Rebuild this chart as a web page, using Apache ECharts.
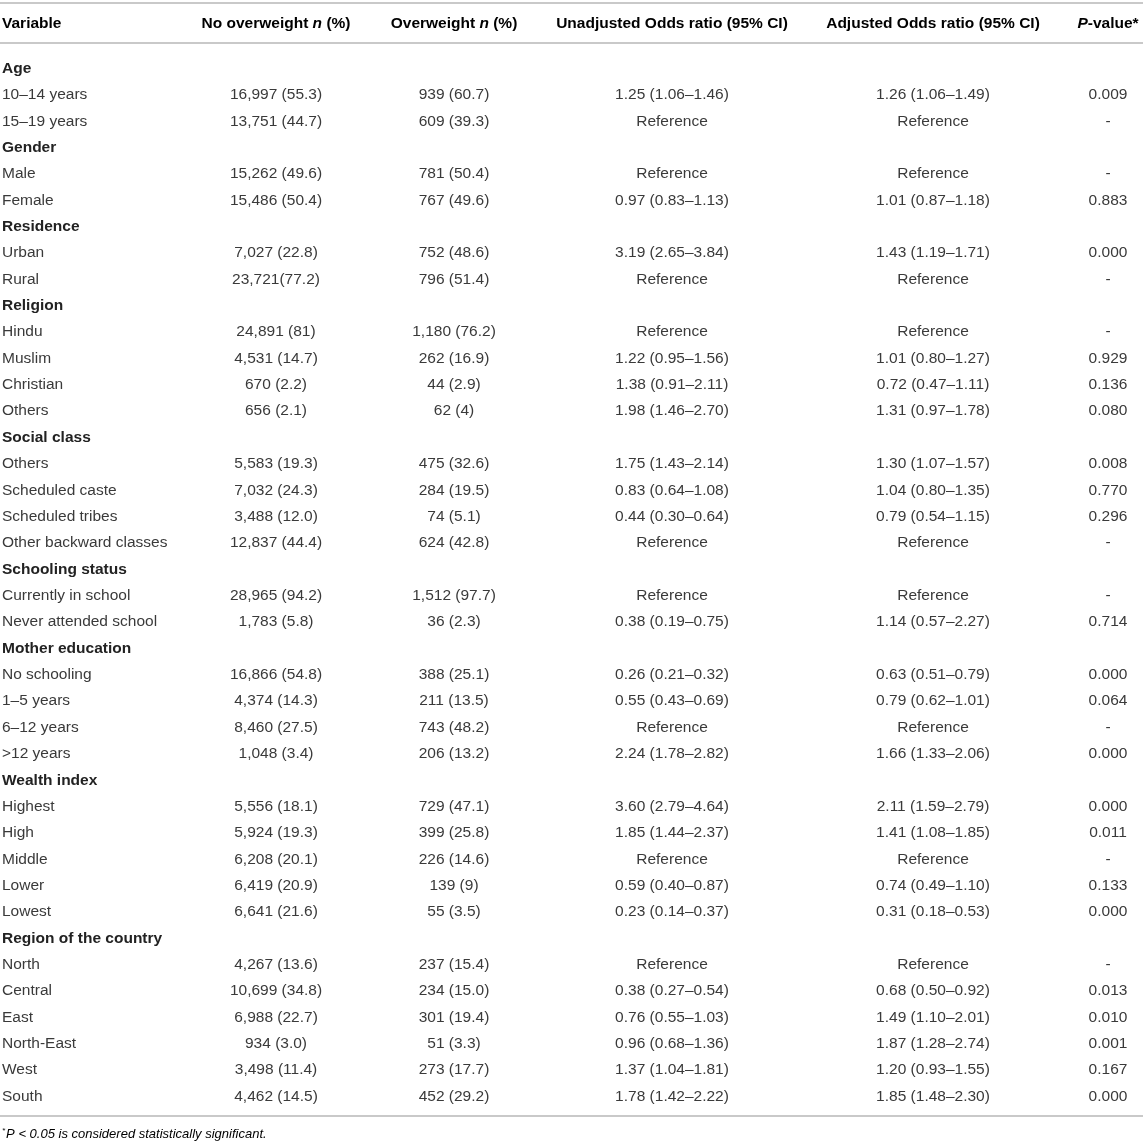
<!DOCTYPE html>
<html>
<head>
<meta charset="utf-8">
<script src="https://cdn.jsdelivr.net/npm/echarts@6/dist/echarts.min.js"></script>
<style>
html,body{margin:0;padding:0;background:#fff;}
#chart{width:1143px;height:1147px;}
</style>
</head>
<body>
<div id="chart"></div>
<script>
// ---- data ----
const headers = ['Variable', 'No overweight n (%)', 'Overweight n (%)', 'Unadjusted Odds ratio (95% CI)', 'Adjusted Odds ratio (95% CI)', 'P-value*'];
const variables = [
  'Age', '10–14 years', '15–19 years',
  'Gender', 'Male', 'Female',
  'Residence', 'Urban', 'Rural',
  'Religion', 'Hindu', 'Muslim', 'Christian', 'Others',
  'Social class', 'Others', 'Scheduled caste', 'Scheduled tribes', 'Other backward classes',
  'Schooling status', 'Currently in school', 'Never attended school',
  'Mother education', 'No schooling', '1–5 years', '6–12 years', '>12 years',
  'Wealth index', 'Highest', 'High', 'Middle', 'Lower', 'Lowest',
  'Region of the country', 'North', 'Central', 'East', 'North-East', 'West', 'South'
];
const isGroupHeading = [
  1,0,0, 1,0,0, 1,0,0, 1,0,0,0,0, 1,0,0,0,0, 1,0,0, 1,0,0,0,0, 1,0,0,0,0,0, 1,0,0,0,0,0,0
];
const noOverweight = [
  '', '16,997 (55.3)', '13,751 (44.7)',
  '', '15,262 (49.6)', '15,486 (50.4)',
  '', '7,027 (22.8)', '23,721(77.2)',
  '', '24,891 (81)', '4,531 (14.7)', '670 (2.2)', '656 (2.1)',
  '', '5,583 (19.3)', '7,032 (24.3)', '3,488 (12.0)', '12,837 (44.4)',
  '', '28,965 (94.2)', '1,783 (5.8)',
  '', '16,866 (54.8)', '4,374 (14.3)', '8,460 (27.5)', '1,048 (3.4)',
  '', '5,556 (18.1)', '5,924 (19.3)', '6,208 (20.1)', '6,419 (20.9)', '6,641 (21.6)',
  '', '4,267 (13.6)', '10,699 (34.8)', '6,988 (22.7)', '934 (3.0)', '3,498 (11.4)', '4,462 (14.5)'
];
const overweight = [
  '', '939 (60.7)', '609 (39.3)',
  '', '781 (50.4)', '767 (49.6)',
  '', '752 (48.6)', '796 (51.4)',
  '', '1,180 (76.2)', '262 (16.9)', '44 (2.9)', '62 (4)',
  '', '475 (32.6)', '284 (19.5)', '74 (5.1)', '624 (42.8)',
  '', '1,512 (97.7)', '36 (2.3)',
  '', '388 (25.1)', '211 (13.5)', '743 (48.2)', '206 (13.2)',
  '', '729 (47.1)', '399 (25.8)', '226 (14.6)', '139 (9)', '55 (3.5)',
  '', '237 (15.4)', '234 (15.0)', '301 (19.4)', '51 (3.3)', '273 (17.7)', '452 (29.2)'
];
const unadjustedOR = [
  '', '1.25 (1.06–1.46)', 'Reference',
  '', 'Reference', '0.97 (0.83–1.13)',
  '', '3.19 (2.65–3.84)', 'Reference',
  '', 'Reference', '1.22 (0.95–1.56)', '1.38 (0.91–2.11)', '1.98 (1.46–2.70)',
  '', '1.75 (1.43–2.14)', '0.83 (0.64–1.08)', '0.44 (0.30–0.64)', 'Reference',
  '', 'Reference', '0.38 (0.19–0.75)',
  '', '0.26 (0.21–0.32)', '0.55 (0.43–0.69)', 'Reference', '2.24 (1.78–2.82)',
  '', '3.60 (2.79–4.64)', '1.85 (1.44–2.37)', 'Reference', '0.59 (0.40–0.87)', '0.23 (0.14–0.37)',
  '', 'Reference', '0.38 (0.27–0.54)', '0.76 (0.55–1.03)', '0.96 (0.68–1.36)', '1.37 (1.04–1.81)', '1.78 (1.42–2.22)'
];
const adjustedOR = [
  '', '1.26 (1.06–1.49)', 'Reference',
  '', 'Reference', '1.01 (0.87–1.18)',
  '', '1.43 (1.19–1.71)', 'Reference',
  '', 'Reference', '1.01 (0.80–1.27)', '0.72 (0.47–1.11)', '1.31 (0.97–1.78)',
  '', '1.30 (1.07–1.57)', '1.04 (0.80–1.35)', '0.79 (0.54–1.15)', 'Reference',
  '', 'Reference', '1.14 (0.57–2.27)',
  '', '0.63 (0.51–0.79)', '0.79 (0.62–1.01)', 'Reference', '1.66 (1.33–2.06)',
  '', '2.11 (1.59–2.79)', '1.41 (1.08–1.85)', 'Reference', '0.74 (0.49–1.10)', '0.31 (0.18–0.53)',
  '', 'Reference', '0.68 (0.50–0.92)', '1.49 (1.10–2.01)', '1.87 (1.28–2.74)', '1.20 (0.93–1.55)', '1.85 (1.48–2.30)'
];
const pValues = [
  '', '0.009', '-',
  '', '-', '0.883',
  '', '0.000', '-',
  '', '-', '0.929', '0.136', '0.080',
  '', '0.008', '0.770', '0.296', '-',
  '', '-', '0.714',
  '', '0.000', '0.064', '-', '0.000',
  '', '0.000', '0.011', '-', '0.133', '0.000',
  '', '-', '0.013', '0.010', '0.001', '0.167', '0.000'
];
const footnote = 'P < 0.05 is considered statistically significant.';

// ---- layout (not data) ----
const W = 1143;
const colX = [2, 276, 454, 672, 933, 1108];
const colAlign = ['left', 'center', 'center', 'center', 'center', 'center'];
const rowH = 26.36;
const firstRowY = 68.5;
const FONT = '"Liberation Sans", Arial, Helvetica, sans-serif';
const TXT = '#3a3a3a';
const FS = 15.5;
const LINE = '#c9c9c9';

const columns = [variables, noOverweight, overweight, unadjustedOR, adjustedOR, pValues];

const chart = echarts.init(document.getElementById('chart'), null, {renderer: 'canvas'});

function renderRow(params, api) {
  const i = api.value(1);
  const children = [];
  for (let j = 0; j < columns.length; j++) {
    const t = columns[j][i];
    if (!t) continue;
    const pt = api.coord([colX[j], i]);
    const bold = j === 0 && isGroupHeading[i];
    children.push({
      type: 'text',
      x: pt[0], y: pt[1],
      style: {
        text: t,
        fill: bold ? '#222' : TXT,
        font: (bold ? 'bold ' : '') + FS + 'px ' + FONT,
        align: colAlign[j],
        verticalAlign: 'middle'
      }
    });
  }
  return {type: 'group', children};
}

const headerRich = {
  b: {fontFamily: FONT, fontWeight: 'bold', fontSize: FS, color: '#222'},
  i: {fontFamily: FONT, fontWeight: 'bold', fontStyle: 'italic', fontSize: FS, color: '#222'}
};
const headerTexts = [
  '{b|Variable}',
  '{b|No overweight }{i|n}{b| (%)}',
  '{b|Overweight }{i|n}{b| (%)}',
  '{b|Unadjusted Odds ratio (95% CI)}',
  '{b|Adjusted Odds ratio (95% CI)}',
  '{i|P}{b|-value*}'
];

const graphics = [];
headerTexts.forEach((t, j) => {
  graphics.push({
    type: 'text',
    x: colX[j], y: 23.5,
    style: {
      text: t, rich: headerRich,
      align: colAlign[j], verticalAlign: 'middle'
    }
  });
});
[3, 43, 1116].forEach(y => {
  graphics.push({
    type: 'line',
    shape: {x1: 0, y1: y, x2: W, y2: y},
    style: {stroke: LINE, lineWidth: 2}
  });
});
graphics.push({
  type: 'text',
  x: 2, y: 1134,
  style: {
    text: '{s|*}{t|' + footnote + '}',
    rich: {
      s: {fontFamily: FONT, fontStyle: 'italic', fontSize: 8, color: TXT, verticalAlign: 'top', padding: [0, 1, 6, 0]},
      t: {fontFamily: FONT, fontStyle: 'italic', fontSize: 13, color: TXT}
    },
    verticalAlign: 'middle'
  }
});

const option = {
  backgroundColor: '#fff',
  animation: false,
  grid: {left: 0, right: 0, top: firstRowY - rowH / 2, height: rowH * variables.length},
  xAxis: {type: 'value', min: 0, max: W, show: false},
  yAxis: {type: 'category', data: variables.map((v, i) => String(i)), inverse: true, show: false},
  series: [{
    type: 'custom',
    renderItem: renderRow,
    data: variables.map((v, i) => [0, i]),
    encode: {x: 0, y: 1},
    silent: true
  }],
  graphic: graphics
};
chart.setOption(option);
</script>
</body>
</html>
